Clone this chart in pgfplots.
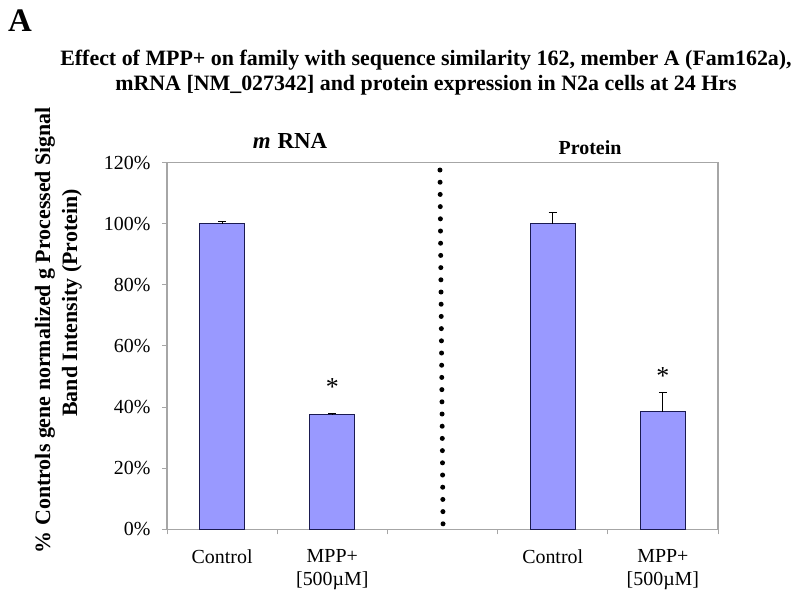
\documentclass[border=0pt]{standalone}
\usepackage{fontspec}
\setmainfont{Liberation Serif}
\usepackage{pgfplots}
\usepackage{pgfplotstable}
\pgfplotsset{compat=1.18}
\pgfplotstableread{
x y err
0 100 0.8
1 37.5 0.3
3 100 3.7
4 38.5 6.3
}\bardata
\definecolor{barfill}{HTML}{9999FF}
\definecolor{baredge}{HTML}{1A1A50}
\definecolor{frame}{HTML}{A6A6A6}
\begin{document}
\begin{tikzpicture}[x=1bp,y=1bp]
\path[use as bounding box] (0,0) rectangle (800,600);
\begin{axis}[
  at={(167bp,70.7bp)}, anchor=south west,
  scale only axis, width=551bp, height=366.6bp,
  xmin=-0.5, xmax=4.5, ymin=0, ymax=120,
  axis line style={frame, line width=1.2bp},
  xtick={0,1,3,4},
  xticklabels={Control,{MPP+\\\relax{}[500µM]},Control,{MPP+\\\relax{}[500µM]}},
  x tick label style={align=center, font=\fontsize{20}{23}\selectfont, yshift=-12bp},
  major x tick style={draw=none},
  minor xtick={-0.5,0.5,1.5,2.5,3.5,4.5},
  minor tick length=5bp,
  minor x tick style={frame, line width=1bp},
  ytick={0,20,...,120},
  yticklabel={\pgfmathprintnumber{\tick}\%},
  /pgf/number format/assume math mode=true,
  y tick label style={font=\fontsize{20}{24}\selectfont, xshift=-8bp},
  major tick length=5bp,
  y tick style={frame, line width=1bp},
  tick align=outside,
  xtick pos=bottom, ytick pos=left,
  clip=false,
]
\addplot[ybar, bar width=45bp, fill=barfill, draw=baredge, line width=1bp,
  error bars/.cd, y dir=plus, y explicit,
  error bar style={black, line width=0.9bp},
  error mark options={rotate=90, mark size=4bp, black, line width=0.9bp}]
  table[x=x, y=y, y error=err] {\bardata};
\addplot[black, line width=5bp, line cap=round, dash pattern=on 0pt off 12.2bp]
  coordinates {(1.977,117.6) (2.005,0.8)};
\node[font=\fontsize{26}{26}\selectfont] at (axis cs:1,46.5) {*};
\node[font=\fontsize{26}{26}\selectfont] at (axis cs:4,50.1) {*};
\end{axis}
\node[font=\fontsize{33}{33}\selectfont\bfseries, anchor=base west, inner sep=0pt] at (8,568) {A};
\node[font=\fontsize{22}{22}\selectfont\bfseries, anchor=base, inner sep=0pt] at (426,534) {Effect of MPP+ on family with sequence similarity 162, member A (Fam162a),};
\node[font=\fontsize{22}{22}\selectfont\bfseries, anchor=base, inner sep=0pt] at (426,509) {mRNA [NM\_027342] and protein expression in N2a cells at 24 Hrs};
\node[font=\fontsize{23}{23}\selectfont\bfseries, anchor=base, inner sep=0pt] at (290,451) {\textit{m}\hspace{0.3em}RNA};
\node[font=\fontsize{20}{20}\selectfont\bfseries, anchor=base, inner sep=0pt] at (590,445) {Protein};
\node[font=\fontsize{22}{24}\selectfont\bfseries, rotate=90] at (45,270) {\% Controls gene normalized g Processed Signal};
\node[font=\fontsize{22}{24}\selectfont\bfseries, rotate=90] at (72,297) {Band Intensity (Protein)};
\end{tikzpicture}
\end{document}
